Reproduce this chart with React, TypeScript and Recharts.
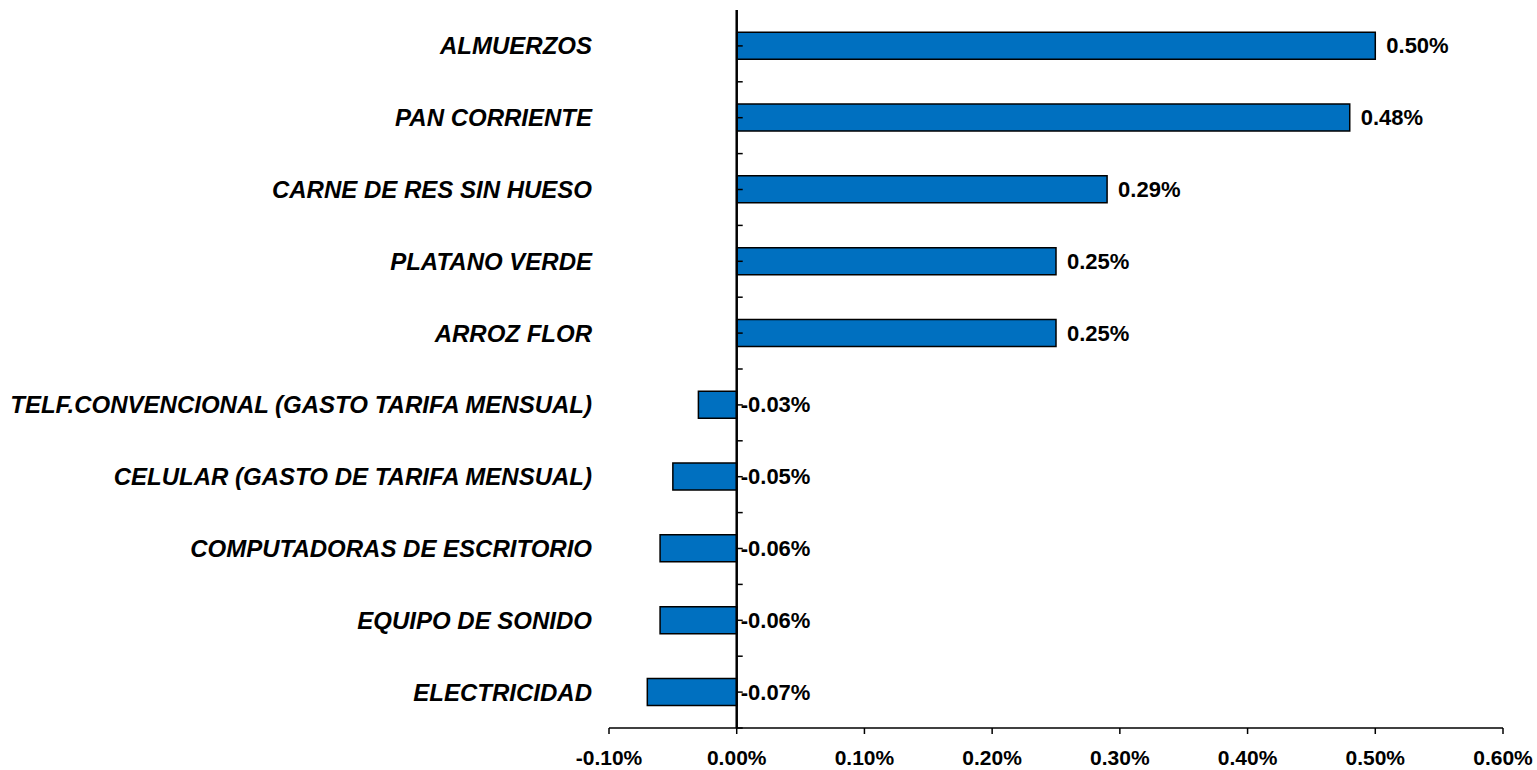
import { BarChart, Bar, XAxis, YAxis, ReferenceLine, LabelList } from 'recharts';

// Productos (de arriba hacia abajo)
const productos = [
  'ALMUERZOS',
  'PAN CORRIENTE',
  'CARNE DE RES SIN HUESO',
  'PLATANO VERDE',
  'ARROZ FLOR',
  'TELF.CONVENCIONAL (GASTO TARIFA MENSUAL)',
  'CELULAR (GASTO DE TARIFA MENSUAL)',
  'COMPUTADORAS DE ESCRITORIO',
  'EQUIPO DE SONIDO',
  'ELECTRICIDAD',
];

// Incidencia en porcentaje
const incidencia = [0.5, 0.48, 0.29, 0.25, 0.25, -0.03, -0.05, -0.06, -0.06, -0.07];

const ticksX = [-0.1, 0, 0.1, 0.2, 0.3, 0.4, 0.5, 0.6];

const data = productos.map((nombre, i) => ({ nombre, valor: incidencia[i] }));

const FONT = '"Liberation Sans", Arial, sans-serif';
const fmt = (v: number) => `${v.toFixed(2)}%`;

function CategoriaTick(props: any) {
  const { x, y, payload } = props;
  return (
    <text
      x={x - 9}
      y={y}
      dy="0.35em"
      textAnchor="end"
      fontFamily={FONT}
      fontSize={24}
      fontWeight="bold"
      fontStyle="italic"
      fill="#000"
    >
      {payload.value}
    </text>
  );
}

function Etiqueta(props: any) {
  const { x, y, width, height, value } = props;
  const right = Math.max(x, x + width);
  const px = value >= 0 ? right + 11 : right + 4;
  return (
    <text
      x={px}
      y={y + height / 2}
      dy="0.35em"
      fontFamily={FONT}
      fontSize={22}
      fontWeight="bold"
      fill="#000"
    >
      {fmt(value)}
    </text>
  );
}

// eje vertical en cero con marcas cada media categoria
function EjeCero(props: any) {
  const { x1, y1, y2 } = props;
  const n = productos.length * 2;
  const paso = (y2 - y1) / n;
  const marcas = [];
  for (let k = 0; k < n; k++) {
    const yy = y1 + k * paso;
    marcas.push(<line key={k} x1={x1} x2={x1 + 6} y1={yy} y2={yy} stroke="#000" strokeWidth={1.5} />);
  }
  return (
    <g>
      <line x1={x1} x2={x1} y1={y1} y2={y2} stroke="#000" strokeWidth={2.5} />
      {marcas}
    </g>
  );
}

export default function App() {
  return (
    <div style={{ width: 1537, height: 770, background: '#fff' }}>
      <style>{'body{margin:0}'}</style>
      <BarChart
        width={1537}
        height={770}
        data={data}
        layout="vertical"
        margin={{ top: 10, right: 34, bottom: 0, left: 0 }}
        barCategoryGap="31%"
      >
        <XAxis
          type="number"
          domain={[-0.1, 0.6]}
          ticks={ticksX}
          tickFormatter={fmt}
          height={42}
          stroke="#000"
          strokeWidth={1.5}
          tickSize={6}
          tickMargin={16}
          tick={{ fill: '#000', fontFamily: FONT, fontSize: 21, fontWeight: 'bold' }}
        />
        <YAxis
          type="category"
          dataKey="nombre"
          width={609}
          axisLine={false}
          tickLine={false}
          tick={<CategoriaTick />}
          interval={0}
        />
        <Bar dataKey="valor" fill="#0070C0" stroke="#000" strokeWidth={1.5} isAnimationActive={false}>
          <LabelList dataKey="valor" content={<Etiqueta />} />
        </Bar>
        <ReferenceLine x={0} shape={<EjeCero />} />
      </BarChart>
    </div>
  );
}
